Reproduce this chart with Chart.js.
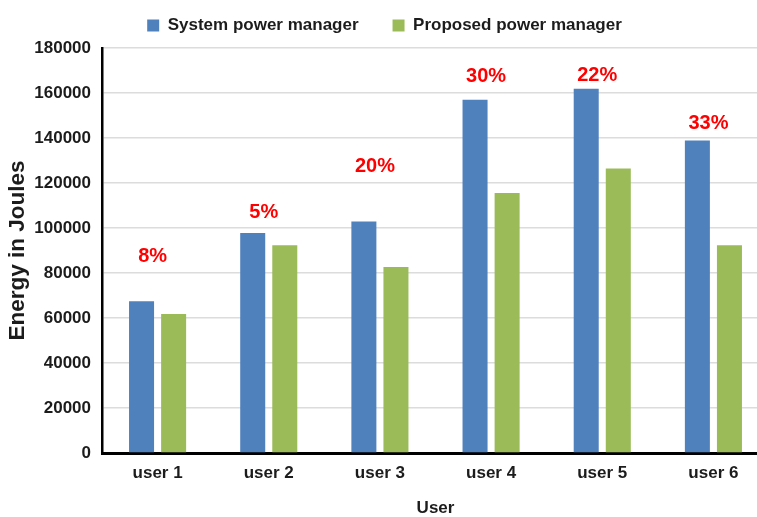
<!DOCTYPE html>
<html>
<head>
<meta charset="utf-8">
<script src="https://cdn.jsdelivr.net/npm/chart.js@4"></script>
<style>
  html, body { margin: 0; padding: 0; background: #fff; overflow: hidden; }
  #wrap { width: 769px; height: 517px; }
</style>
</head>
<body>
<div id="wrap"><canvas id="c" width="769" height="517"></canvas></div>
<script>
const categories = ['user 1', 'user 2', 'user 3', 'user 4', 'user 5', 'user 6'];
const systemPower = [67400, 97800, 102900, 157000, 161900, 138900];
const proposedPower = [61800, 92300, 82700, 115600, 126400, 92300];
const savingLabels = ['8%', '5%', '20%', '30%', '22%', '33%'];
const savingLabelValues = [87200, 106900, 127200, 167200, 167700, 146400];
const yTicks = [0, 20000, 40000, 60000, 80000, 100000, 120000, 140000, 160000, 180000];

const sans = "'Liberation Sans', Arial, sans-serif";
const textColor = '#1c1c1c';

const savingPlugin = {
  id: 'savingLabels',
  afterDatasetsDraw(chart) {
    const ctx = chart.ctx;
    const xs = chart.scales.x, ys = chart.scales.y;
    ctx.save();
    ctx.fillStyle = '#ff0000';
    ctx.font = "bold 20px " + sans;
    ctx.textAlign = 'center';
    ctx.textBaseline = 'middle';
    savingLabels.forEach((t, i) => {
      ctx.fillText(t, xs.getPixelForValue(i) - 5, ys.getPixelForValue(savingLabelValues[i]));
    });
    ctx.restore();
  }
};

const legendHeightPlugin = {
  id: 'legendHeight',
  beforeInit(chart) {
    const lg = chart.legend;
    if (lg && !lg._patched) {
      const orig = lg.fit;
      lg.fit = function () { orig.call(this); this.height += 4; };
      lg._patched = true;
    }
  }
};

new Chart(document.getElementById('c'), {
  type: 'bar',
  data: {
    labels: categories,
    datasets: [
      { label: 'System power manager', data: systemPower, backgroundColor: '#4f81bd', borderWidth: 0 },
      { label: 'Proposed power manager', data: proposedPower, backgroundColor: '#9bbb59', borderWidth: 0 }
    ]
  },
  options: {
    responsive: false,
    animation: false,
    layout: { padding: { top: -17, right: 0, bottom: 0, left: 0 } },
    datasets: { bar: { categoryPercentage: 0.577, barPercentage: 0.78 } },
    plugins: {
      legend: {
        position: 'top',
        labels: {
          boxWidth: 12, boxHeight: 12, padding: 34,
          color: textColor,
          font: { family: sans, size: 17, weight: 'bold' }
        }
      },
      tooltip: { enabled: false }
    },
    scales: {
      x: {
        grid: { display: false, drawTicks: false },
        border: { display: true, color: '#000', width: 3 },
        ticks: { color: textColor, padding: 10, font: { family: sans, size: 17, weight: 'bold' } },
        title: { display: true, text: 'User', color: textColor, padding: { top: 0, bottom: 0 }, font: { family: sans, size: 17, weight: 'bold', lineHeight: 1 } },
        afterFit(s) { s.height = 64; }
      },
      y: {
        min: 0, max: 180000,
        afterBuildTicks(s) { s.ticks = yTicks.map(v => ({ value: v })); },
        grid: { color: '#dcdcdc', lineWidth: 1.5, drawTicks: false },
        border: { display: true, color: '#000', width: 2.5 },
        ticks: { color: textColor, padding: 11, font: { family: sans, size: 17, weight: 'bold' }, callback: v => String(v) },
        title: { display: true, text: 'Energy in Joules', color: textColor, padding: { top: 7, bottom: 0 }, font: { family: sans, size: 22.5, weight: 'bold', lineHeight: 1 } },
        afterFit(s) { s.width = 102; }
      }
    }
  },
  plugins: [savingPlugin, legendHeightPlugin]
});
</script>
</body>
</html>
